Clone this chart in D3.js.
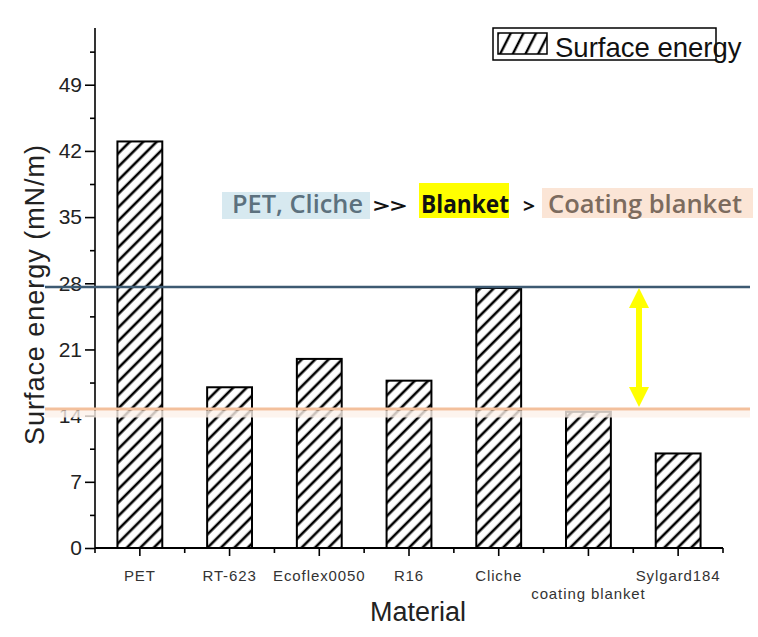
<!DOCTYPE html>
<html>
<head>
<meta charset="utf-8">
<script src="https://cdn.jsdelivr.net/npm/d3@7"></script>
<style>
  html, body { margin: 0; padding: 0; background: #fff; }
  svg { display: block; }
</style>
</head>
<body>
<script>
// ---- data ----
const categories = ["PET", "RT-623", "Ecoflex0050", "R16", "Cliche", "coating blanket", "Sylgard184"];
const surfaceEnergy = [43.0, 17.0, 20.0, 17.7, 27.5, 14.4, 10.0];
const yTicks = [0, 7, 14, 21, 28, 35, 42, 49];
const yMinorTicks = [3.5, 10.5, 17.5, 24.5, 31.5, 38.5, 45.5, 52.5];
const refLines = [27.6, 14.7];
const seriesName = "Surface energy";
const arrowRange = [27.6, 14.7];

const W = 758, H = 637;
const margin = { top: 28, right: 35, bottom: 89, left: 95 };

const svg = d3.select("body").append("svg").attr("width", W).attr("height", H);
const defs = svg.append("defs");

// hatch patterns
const hatch = defs.append("pattern").attr("id", "hatch")
  .attr("patternUnits", "userSpaceOnUse").attr("width", 9.5).attr("height", 9.5)
  .attr("patternTransform", "rotate(45)");
hatch.append("rect").attr("width", 9.5).attr("height", 9.5).attr("fill", "#fff");
hatch.append("line").attr("x1", 2).attr("y1", 0).attr("x2", 2).attr("y2", 9.5)
  .attr("stroke", "#000").attr("stroke-width", 2.6);

const hatchL = defs.append("pattern").attr("id", "hatchL")
  .attr("patternUnits", "userSpaceOnUse").attr("width", 11.3).attr("height", 11.3)
  .attr("patternTransform", "translate(500,0) rotate(27)");
hatchL.append("rect").attr("width", 11.3).attr("height", 11.3).attr("fill", "#fff");
hatchL.append("line").attr("x1", 2).attr("y1", 0).attr("x2", 2).attr("y2", 11.3)
  .attr("stroke", "#000").attr("stroke-width", 2.4);

const x = d3.scaleBand().domain(categories)
  .range([margin.left, W - margin.right]).paddingInner(0.5).paddingOuter(0.25);
const y = d3.scaleLinear().domain([0, 55]).range([H - margin.bottom, margin.top]);

// bars
svg.append("g").selectAll("rect").data(categories).join("rect")
  .attr("x", d => x(d))
  .attr("y", (d, i) => y(surfaceEnergy[i]))
  .attr("width", x.bandwidth())
  .attr("height", (d, i) => y(0) - y(surfaceEnergy[i]))
  .attr("fill", "url(#hatch)")
  .attr("stroke", "#000").attr("stroke-width", 2);

// axes
const fontAxis = "'Liberation Sans', Arial, sans-serif";

const yAxis = svg.append("g").attr("transform", `translate(${margin.left},0)`)
  .call(d3.axisLeft(y).tickValues(yTicks).tickFormat(d3.format("d")).tickSize(10).tickPadding(3));
yAxis.select(".domain").attr("d", `M0,${y(55)}V${y(0)}`).attr("stroke-width", 1.6);
yAxis.selectAll(".tick line").attr("stroke-width", 1.6);
yAxis.selectAll(".tick text").attr("font-family", fontAxis).attr("font-size", 21).attr("fill", "#222");
svg.append("g").attr("transform", `translate(${margin.left},0)`)
  .call(d3.axisLeft(y).tickValues(yMinorTicks).tickFormat("").tickSize(5))
  .call(g => g.select(".domain").remove())
  .selectAll("line").attr("stroke-width", 1.6);

const xAxis = svg.append("g").attr("transform", `translate(0,${y(0)})`)
  .call(d3.axisBottom(x).tickSize(8).tickPadding(14));
xAxis.select(".domain").attr("d", `M${margin.left},0H${W - margin.right}`).attr("stroke-width", 2);
xAxis.selectAll(".tick line").attr("stroke-width", 1.6);
xAxis.selectAll(".tick text")
  .attr("font-family", fontAxis).attr("font-size", 15).attr("fill", "#333")
  .attr("letter-spacing", 0.9)
  .attr("dy", d => d === "coating blanket" ? "1.95em" : "0.71em");
// minor ticks at category boundaries
const boundaries = [margin.left].concat(categories.map(c => x(c) + x.bandwidth() + x.step() * x.paddingInner() / 2));
boundaries[boundaries.length - 1] = W - margin.right;
svg.append("g").selectAll("line").data(boundaries).join("line")
  .attr("x1", d => d).attr("x2", d => d)
  .attr("y1", y(0)).attr("y2", y(0) + 5)
  .attr("stroke", "#000").attr("stroke-width", 1.6);

// axis titles
svg.append("text").attr("transform", `translate(44,${(143 + 447) / 2}) rotate(-90)`)
  .attr("text-anchor", "middle").attr("font-family", fontAxis).attr("font-size", 27)
  .attr("fill", "#222").attr("textLength", 300).attr("lengthAdjust", "spacing")
  .text("Surface energy (mN/m)");
svg.append("text").attr("x", 418).attr("y", 621)
  .attr("text-anchor", "middle").attr("font-family", fontAxis).attr("font-size", 27)
  .attr("fill", "#222").text("Material");

// reference lines
svg.append("line").attr("x1", 45).attr("x2", 750)
  .attr("y1", y(refLines[1]) + 5).attr("y2", y(refLines[1]) + 5)
  .attr("stroke", "#fdf2ea").attr("stroke-width", 7).attr("opacity", 0.8);
svg.append("line").attr("x1", 45).attr("x2", 750)
  .attr("y1", y(refLines[1])).attr("y2", y(refLines[1]))
  .attr("stroke", "#f3c09c").attr("stroke-width", 3.2);
svg.append("line").attr("x1", 45).attr("x2", 750)
  .attr("y1", y(refLines[0])).attr("y2", y(refLines[0]))
  .attr("stroke", "#3d5a72").attr("stroke-width", 2.5);

// yellow double arrow
const ax = 639, yTop = y(arrowRange[0]) + 1, yBot = y(arrowRange[1]) - 2;
svg.append("line").attr("x1", ax).attr("x2", ax).attr("y1", yTop + 15).attr("y2", yBot - 15)
  .attr("stroke", "#ffff00").attr("stroke-width", 6);
svg.append("path").attr("d", `M${ax},${yTop}L${ax - 10},${yTop + 20}L${ax + 10},${yTop + 20}Z`).attr("fill", "#ffff00");
svg.append("path").attr("d", `M${ax},${yBot}L${ax - 10},${yBot - 20}L${ax + 10},${yBot - 20}Z`).attr("fill", "#ffff00");

// annotation
const annFont = "'Open Sans', 'Noto Sans', sans-serif";
const ann = svg.append("g");
const segs = [
  { t: "PET, Cliche", x0: 232, w: 131, bg: [222, 192, 148, 27], bgc: "#d7e9f0", c: "#5c717e", fw: 600 },
  { t: ">>", x0: 373, w: 34, c: "#111", fw: 700 },
  { t: "Blanket", x0: 421, w: 88, bg: [419, 183, 90, 35], bgc: "#ffff00", c: "#111", fw: 700 },
  { t: ">", x0: 523, w: 12, c: "#111", fw: 700 },
  { t: "Coating blanket", x0: 548, w: 194, bg: [542, 188, 211, 30], bgc: "#fbe5d6", c: "#7c6b5e", fw: 600 }
];
segs.forEach(s => {
  if (s.bg) ann.append("rect").attr("x", s.bg[0]).attr("y", s.bg[1]).attr("width", s.bg[2]).attr("height", s.bg[3]).attr("fill", s.bgc);
});
segs.forEach(s => {
  ann.append("text").attr("x", s.x0).attr("y", 213)
    .attr("font-family", annFont).attr("font-weight", s.fw)
    .attr("font-size", s.t.includes(">") ? 20 : 25)
    .attr("fill", s.c).attr("textLength", s.w).attr("lengthAdjust", "spacingAndGlyphs")
    .text(s.t);
});

// legend
const lg = svg.append("g");
lg.append("rect").attr("x", 493).attr("y", 28).attr("width", 223).attr("height", 32)
  .attr("fill", "none").attr("stroke", "#000").attr("stroke-width", 1.5);
lg.append("rect").attr("x", 498).attr("y", 33).attr("width", 49).attr("height", 21)
  .attr("fill", "url(#hatchL)").attr("stroke", "#000").attr("stroke-width", 1.5);
lg.append("text").attr("x", 555).attr("y", 57).attr("font-family", fontAxis)
  .attr("font-size", 27.5).attr("fill", "#111").text(seriesName);
</script>
</body>
</html>
